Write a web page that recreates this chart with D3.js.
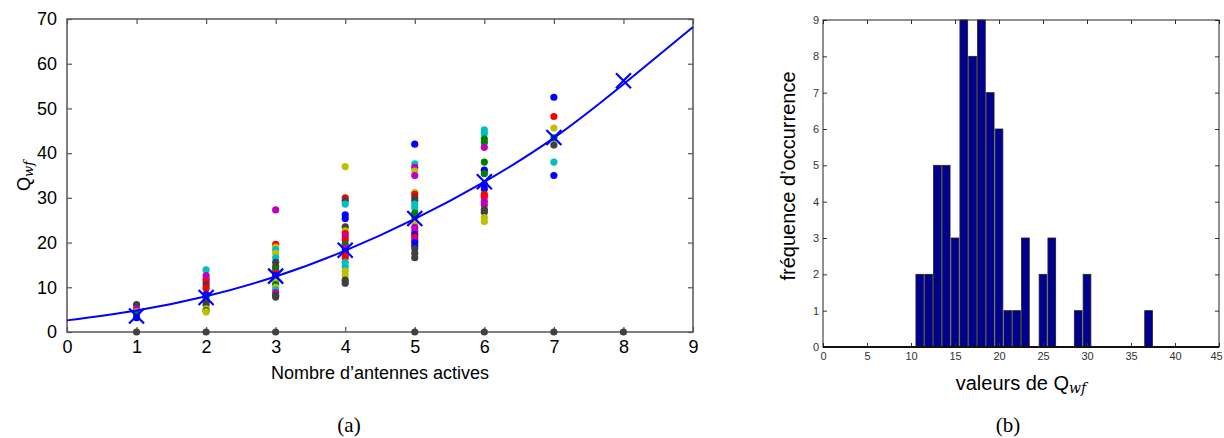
<!DOCTYPE html>
<html><head><meta charset="utf-8">
<script src="https://cdn.jsdelivr.net/npm/d3@7"></script>
<style>
body{margin:0;background:#fff;}
svg{display:block;font-family:"Liberation Sans",Arial,sans-serif;}
</style></head>
<body>
<svg id="c" width="1224" height="438"></svg>
<script>
// ---------- Data (a) ----------
const antennaTicks = [0,1,2,3,4,5,6,7,8,9];
const qTicks = [0,10,20,30,40,50,60,70];
const col1 = [[6.1,'k'],[5.1,'m'],[4.5,'y'],[4.1,'g'],[3.2,'b']];
const col2 = [[13.9,'c'],[12.6,'m'],[11.8,'m'],[11.2,'r'],[10.5,'k'],[9.8,'r'],[8.4,'b'],[7.6,'g'],[6.8,'k'],[6.1,'k'],[5.2,'y'],[4.8,'g'],[4.5,'y']];
const col3 = [[27.3,'m'],[19.6,'r'],[19.0,'y'],[18.4,'c'],[17.6,'y'],[16.6,'c'],[15.6,'k'],[14.6,'k'],[14.0,'g'],[13.2,'r'],[12.6,'b'],[11.9,'m'],[11.2,'y'],[10.6,'g'],[10.0,'y'],[9.4,'c'],[8.8,'m'],[8.2,'k'],[7.8,'k']];
const col4 = [[37.0,'y'],[30.0,'r'],[29.4,'k'],[28.6,'c'],[26.2,'b'],[25.4,'b'],[23.5,'k'],[22.6,'y'],[22.0,'r'],[21.4,'m'],[20.6,'r'],[19.6,'g'],[18.8,'m'],[18.0,'b'],[17.2,'r'],[16.6,'r'],[15.6,'c'],[14.6,'c'],[13.6,'y'],[12.6,'y'],[11.6,'k'],[10.9,'k']];
const col5 = [[42.0,'b'],[37.6,'c'],[36.8,'m'],[36.0,'y'],[35.0,'m'],[31.2,'y'],[30.8,'r'],[30.0,'k'],[29.4,'k'],[28.6,'c'],[27.8,'c'],[26.6,'g'],[25.8,'g'],[24.4,'y'],[23.4,'m'],[22.6,'m'],[21.8,'b'],[21.2,'r'],[20.6,'m'],[20.0,'b'],[19.2,'b'],[18.6,'k'],[17.6,'k'],[16.6,'k']];
const col6 = [[45.2,'c'],[44.4,'c'],[43.2,'g'],[42.4,'g'],[41.3,'m'],[38.0,'g'],[36.2,'b'],[35.4,'g'],[33.0,'b'],[32.0,'b'],[30.8,'r'],[30.2,'r'],[29.2,'m'],[28.4,'m'],[27.4,'k'],[26.8,'k'],[25.6,'y'],[24.7,'y']];
const col7 = [[52.5,'b'],[48.2,'r'],[45.6,'y'],[43.4,'g'],[41.8,'k'],[38.0,'c'],[35.0,'b']];
const columns = [col1,col2,col3,col4,col5,col6,col7];
const zeroX = [1,2,3,5,6,7,8];
const meanX = [1,2,3,4,5,6,7,8];
const meanY = [3.6,7.7,12.5,18.3,25.4,33.6,43.5,56.2];
const fitX = [0,1,2,3,4,5,6,7,8,9];
const fitY = [2.6,4.8,8.0,12.4,18.2,25.3,33.6,43.4,55.4,68.2];
const colorCodes = {b:'#0000ff',g:'#008000',r:'#ff0000',c:'#00bfbf',m:'#bf00bf',y:'#bfbf00',k:'#404040'};

// ---------- Data (b) ----------
const binCenters = [11,12,13,14,15,16,17,18,19,20,21,22,23,24,25,26,27,28,29,30,31,32,33,34,35,36,37];
const binCounts  = [2,2,5,5,3,9,8,9,7,6,1,1,3,0,2,3,0,0,1,2,0,0,0,0,0,0,1];
const valTicks = [0,5,10,15,20,25,30,35,40,45];
const freqTicks = [0,1,2,3,4,5,6,7,8,9];

const svg = d3.select('#c');

// ================= Chart (a) =================
{
  const L=67,R=693,T=19,B=332;
  const x = d3.scaleLinear().domain([0,9]).range([L,R]);
  const y = d3.scaleLinear().domain([0,70]).range([B,T]);
  const g = svg.append('g');
  const ax = (sel)=>{sel.selectAll('.domain').remove(); sel.selectAll('line').attr('stroke','#555').attr('stroke-width',1.2);};
  g.append('g').attr('transform',`translate(0,${B})`)
    .call(d3.axisBottom(x).tickValues(antennaTicks).tickSize(-5).tickPadding(8).tickFormat(d3.format('d')))
    .call(ax).selectAll('text').attr('font-size',18).attr('fill','#000').attr('font-family','Liberation Sans, Arial');
  g.append('g').attr('transform',`translate(0,${T})`)
    .call(d3.axisTop(x).tickValues(antennaTicks).tickSize(-5).tickFormat('')).call(ax);
  g.append('g').attr('transform',`translate(${L},0)`)
    .call(d3.axisLeft(y).tickValues(qTicks).tickSize(-5).tickPadding(10).tickFormat(d3.format('d')))
    .call(ax).selectAll('text').attr('font-size',18).attr('fill','#000').attr('font-family','Liberation Sans, Arial');
  g.append('g').attr('transform',`translate(${R},0)`)
    .call(d3.axisRight(y).tickValues(qTicks).tickSize(-5).tickFormat('')).call(ax);
  g.append('rect').attr('x',L).attr('y',T).attr('width',R-L).attr('height',B-T)
    .attr('fill','none').attr('stroke','#555').attr('stroke-width',1.5);

  // scatter points
  columns.forEach((col,i)=>{
    g.append('g').selectAll('circle').data(col).join('circle')
      .attr('cx',x(i+1)).attr('cy',d=>y(d[0])).attr('r',3.6)
      .attr('fill',d=>colorCodes[d[1]]);
  });
  g.append('g').selectAll('circle').data(zeroX).join('circle')
    .attr('cx',d=>x(d)).attr('cy',y(0)).attr('r',3.6).attr('fill',colorCodes.k);

  // fit curve
  const pts = fitX.map((v,i)=>[v,fitY[i]]);
  g.append('path').attr('d',d3.line().x(d=>x(d[0])).y(d=>y(d[1])).curve(d3.curveNatural)(pts))
    .attr('fill','none').attr('stroke','#0000ff').attr('stroke-width',2);
  // X markers
  const s=7.5;
  g.append('g').selectAll('path').data(meanX.map((v,i)=>[v,meanY[i]])).join('path')
    .attr('d',d=>{const cx=x(d[0]),cy=y(d[1]);return `M${cx-s},${cy-s}L${cx+s},${cy+s}M${cx-s},${cy+s}L${cx+s},${cy-s}`;})
    .attr('stroke','#0000ff').attr('stroke-width',2.2).attr('fill','none');

  // labels
  g.append('text').attr('x',(L+R)/2).attr('y',379).attr('text-anchor','middle')
    .attr('font-size',18).text('Nombre d\u2019antennes actives');
  const yl = g.append('text').attr('transform','translate(30,176) rotate(-90)').attr('text-anchor','middle').attr('font-size',18);
  yl.append('tspan').text('Q');
  yl.append('tspan').attr('font-size',13).attr('font-style','italic').attr('dy',3).attr('font-family','DejaVu Serif, serif').text('wf');
  svg.append('text').attr('x',349).attr('y',432).attr('text-anchor','middle')
    .attr('font-family','Liberation Serif, DejaVu Serif, serif').attr('font-size',21).text('(a)');
}

// ================= Chart (b) =================
{
  const L=823,R=1219,T=20,B=347;
  const x = d3.scaleLinear().domain([0,45]).range([L,R]);
  const y = d3.scaleLinear().domain([0,9]).range([B,T]);
  const g = svg.append('g');
  const ax = (sel)=>{sel.selectAll('.domain').remove(); sel.selectAll('line').attr('stroke','#333').attr('stroke-width',1);};

  const bw = x(0.88)-x(0);
  g.append('g').selectAll('rect').data(binCenters.map((c,i)=>[c,binCounts[i]]).filter(d=>d[1]>0)).join('rect')
    .attr('x',d=>x(d[0])-bw/2).attr('y',d=>y(d[1])).attr('width',bw).attr('height',d=>y(0)-y(d[1]))
    .attr('fill','#00008f').attr('stroke','#222').attr('stroke-width',0.8);

  g.append('g').attr('transform',`translate(0,${B})`)
    .call(d3.axisBottom(x).tickValues(valTicks).tickSize(-4).tickPadding(5).tickFormat(d3.format('d')))
    .call(ax).selectAll('text').attr('font-size',11).attr('fill','#333')
    .attr('dx',d=>d===45?-3:0);
  g.append('g').attr('transform',`translate(0,${T})`)
    .call(d3.axisTop(x).tickValues(valTicks).tickSize(-4).tickFormat('')).call(ax);
  g.append('g').attr('transform',`translate(${L},0)`)
    .call(d3.axisLeft(y).tickValues(freqTicks).tickSize(-4).tickPadding(4).tickFormat(d3.format('d')))
    .call(ax).selectAll('text').attr('font-size',11).attr('fill','#333');
  g.append('g').attr('transform',`translate(${R},0)`)
    .call(d3.axisRight(y).tickValues(freqTicks).tickSize(-4).tickFormat('')).call(ax);
  g.append('rect').attr('x',L).attr('y',T).attr('width',R-L).attr('height',B-T)
    .attr('fill','none').attr('stroke','#222').attr('stroke-width',1);
  g.append('line').attr('x1',L).attr('x2',R).attr('y1',B).attr('y2',B).attr('stroke','#111').attr('stroke-width',2);

  const xl = g.append('text').attr('x',(L+R)/2).attr('y',390).attr('text-anchor','middle').attr('font-size',20);
  xl.append('tspan').text('valeurs de Q');
  xl.append('tspan').attr('font-size',14).attr('font-style','italic').attr('dy',3).attr('font-family','DejaVu Serif, serif').text('wf');
  g.append('text').attr('transform','translate(795,176) rotate(-90)').attr('text-anchor','middle')
    .attr('font-size',20).text('fréquence d\u2019occurrence');
  svg.append('text').attr('x',1008).attr('y',432).attr('text-anchor','middle')
    .attr('font-family','Liberation Serif, DejaVu Serif, serif').attr('font-size',21).text('(b)');
}
</script>
</body></html>
